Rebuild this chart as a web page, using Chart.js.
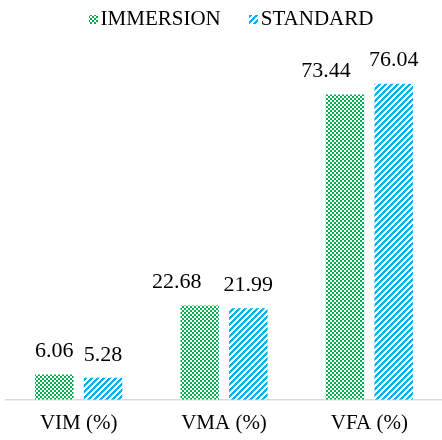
<!DOCTYPE html>
<html>
<head>
<meta charset="utf-8">
<script src="https://cdn.jsdelivr.net/npm/chart.js@4/dist/chart.umd.min.js"></script>
<style>
html,body{margin:0;padding:0;background:#fff;overflow:hidden;}
canvas{display:block;}
</style>
</head>
<body>
<canvas id="c" width="442" height="440" style="width:442px;height:440px;"></canvas>
<script>
const categories = ["VIM (%)", "VMA (%)", "VFA (%)"];
const seriesNames = ["IMMERSION", "STANDARD"];
const immersion = [6.06, 22.68, 73.44];
const standard = [5.28, 21.99, 76.04];

function checkerPattern(color) {
  const c = document.createElement('canvas');
  c.width = 4; c.height = 4;
  const g = c.getContext('2d');
  g.fillStyle = '#ffffff'; g.fillRect(0, 0, 4, 4);
  g.fillStyle = color;
  g.fillRect(0, 0, 2, 2);
  g.fillRect(2, 2, 2, 2);
  return g.createPattern(c, 'repeat');
}
function diagPattern(color) {
  const n = 6;
  const c = document.createElement('canvas');
  c.width = n; c.height = n;
  const g = c.getContext('2d');
  g.fillStyle = '#ffffff'; g.fillRect(0, 0, n, n);
  g.fillStyle = color;
  for (let x = 0; x < n; x++) for (let y = 0; y < n; y++) {
    if ((x + y) % n < 3) g.fillRect(x, y, 1, 1);
  }
  return g.createPattern(c, 'repeat');
}

const serif = "'Liberation Serif', 'Times New Roman', serif";

const labelPlugin = {
  id: 'valueLabels',
  afterDatasetsDraw(chart, args, opts) {
    const ctx = chart.ctx;
    ctx.save();
    ctx.font = "22px " + serif;
    ctx.fillStyle = '#000';
    ctx.textAlign = 'center';
    ctx.textBaseline = 'middle';
    chart.data.datasets.forEach((ds, di) => {
      const meta = chart.getDatasetMeta(di);
      meta.data.forEach((el, i) => {
        const dx = (opts.dx[di] || [])[i] || 0;
        ctx.fillText(ds.data[i].toFixed(2), el.x + dx, el.y - 23);
      });
    });
    ctx.restore();
  }
};

// compact legend: small pattern swatch right next to its text
const compactLegend = {
  id: 'compactLegend',
  afterDraw(chart, args, opts) {
    const ctx = chart.ctx;
    ctx.save();
    ctx.font = opts.fontSize + "px " + serif;
    const ds = chart.data.datasets;
    const widths = ds.map(d => ctx.measureText(d.label).width);
    let total = 0;
    widths.forEach((w, i) => { total += opts.box + opts.gap + w + (i < widths.length - 1 ? opts.itemGap : 0); });
    const ca = chart.chartArea;
    let x = (ca.left + ca.right) / 2 + opts.shift - total / 2;
    const y = opts.y;
    ctx.textBaseline = 'middle';
    ctx.textAlign = 'left';
    ds.forEach((d, i) => {
      ctx.fillStyle = d.backgroundColor;
      ctx.fillRect(Math.round(x), Math.round(y - opts.box / 2), opts.box, opts.box);
      x += opts.box + opts.gap;
      ctx.fillStyle = '#000';
      ctx.fillText(d.label, x, y);
      x += widths[i] + opts.itemGap;
    });
    ctx.restore();
  }
};

new Chart(document.getElementById('c'), {
  type: 'bar',
  data: {
    labels: categories,
    datasets: [
      { label: seriesNames[0], data: immersion, backgroundColor: checkerPattern('#00b050'), borderWidth: 0 },
      { label: seriesNames[1], data: standard, backgroundColor: diagPattern('#00b0f0'), borderWidth: 0 }
    ]
  },
  options: {
    responsive: false,
    maintainAspectRatio: false,
    animation: false,
    devicePixelRatio: 1,
    categoryPercentage: 0.67,
    barPercentage: 0.79,
    layout: { padding: { left: 6, right: -7.5, top: 41, bottom: 1 } },
    plugins: {
      legend: { display: false },
      tooltip: { enabled: false },
      valueLabels: { dx: [[0, -23, -19], [0, 0, 0]] },
      compactLegend: { fontSize: 21, box: 9, gap: 3, itemGap: 28, y: 19, shift: 7 }
    },
    scales: {
      x: {
        grid: { display: false },
        border: { display: true, color: '#d9d9d9', width: 1.5 },
        ticks: { font: { family: serif, size: 21 }, color: '#000', padding: 3 }
      },
      y: {
        display: false,
        min: 0,
        max: 86.3
      }
    }
  },
  plugins: [labelPlugin, compactLegend]
});
</script>
</body>
</html>
